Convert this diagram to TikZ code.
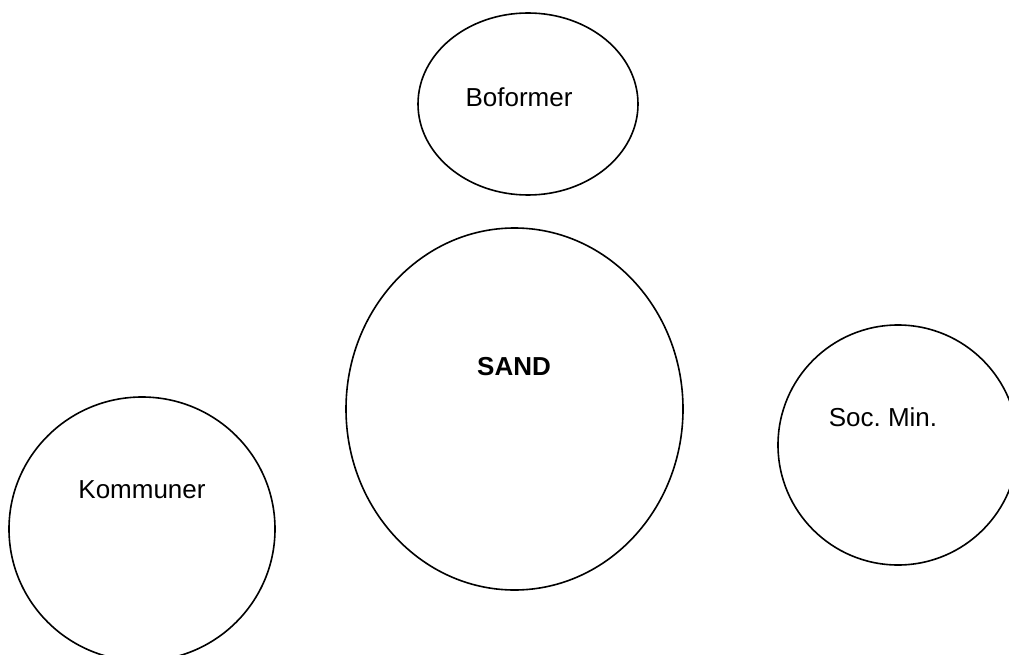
\documentclass[tikz,border=0pt]{standalone}
\usepackage{fontspec}
\setmainfont{Liberation Sans}
\usepackage{tikz}
\usetikzlibrary{shapes.geometric}

\tikzset{
  blob/.style={draw, ellipse, line width=1.6pt, inner sep=0pt},
  lbl/.style={font=\fontsize{26}{30}\selectfont, inner sep=0pt}
}

\begin{document}
\begin{tikzpicture}[x=1pt, y=-1pt]
    \useasboundingbox (0, 0) rectangle (1009, 655);
    \clip (0, 0) rectangle (1009, 655);

    \node[blob, minimum width=220pt, minimum height=182pt] (boformer) at (528, 104) {};
    \node[lbl] (boformertxt) at (519, 97) {Boformer};

    \node[blob, minimum width=337pt, minimum height=362pt] (sand) at (514.5, 409) {};
    \node[lbl, font=\fontsize{26}{30}\selectfont\bfseries] (sandtxt) at (514, 367) {SAND};

    \node[blob, minimum width=240pt, minimum height=240pt] (socmin) at (898, 445) {};
    \node[lbl] (socmintxt) at (883, 417) {Soc.\ Min.};

    \node[blob, minimum width=266pt, minimum height=264pt] (kommuner) at (142, 529) {};
    \node[lbl] (kommunertxt) at (142, 490) {Kommuner};
  \end{tikzpicture}
\end{document}
